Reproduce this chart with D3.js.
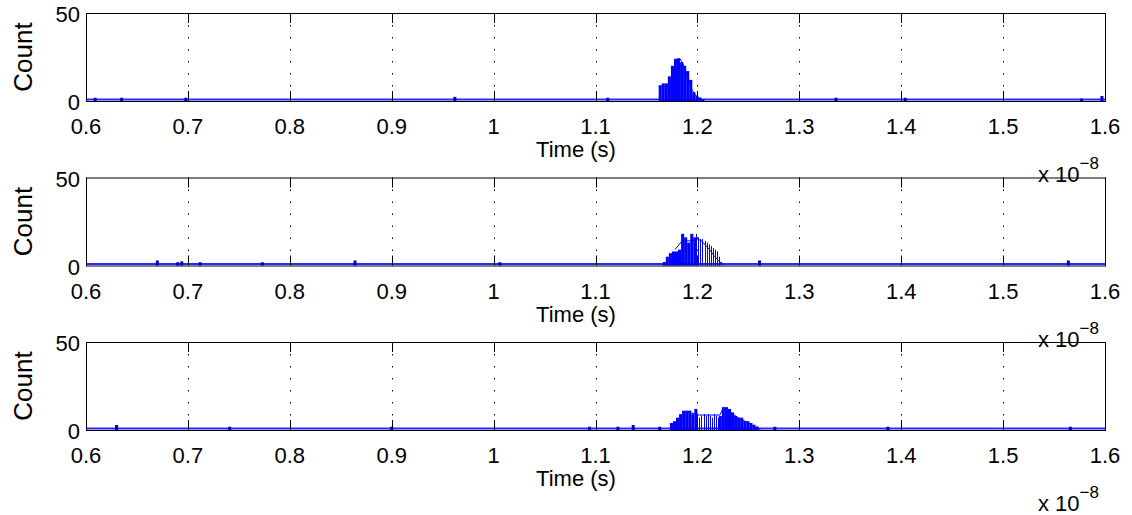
<!DOCTYPE html>
<html>
<head>
<meta charset="utf-8">
<script src="https://d3js.org/d3.v7.min.js"></script>
<style>
  body { margin: 0; background: #fff; }
  svg  { display: block; font-family: "Liberation Sans", Arial, sans-serif; }
</style>
</head>
<body>
<div id="chart"></div>
<script>
/* ---- data (times in units of 1e-8 s) ---- */
const xTicks = [0.6, 0.7, 0.8, 0.9, 1.0, 1.1, 1.2, 1.3, 1.4, 1.5, 1.6];
const xTickLabels = ['0.6', '0.7', '0.8', '0.9', '1', '1.1', '1.2', '1.3', '1.4', '1.5', '1.6'];
const yTicks = [0, 50];
const binStep = 0.003;   // wide bins
const combStep = 0.002;  // narrow, gapped bins

// panel 1
const p1BarStart = 1.162;
const p1Bars = [9, 10, 10, 14, 20, 24, 24, 22, 20, 17, 12, 5, 3, 2, 1];
const p1CombStart = 1.2;
const p1Comb = [];
const p1Line = [[1.18, 24], [1.183, 24], [1.186, 21], [1.19, 14], [1.195, 6], [1.2, 2], [1.205, 0.5]];
const p1Strays = [[0.609, 1], [0.635, 1], [0.698, 1], [0.962, 1.5], [1.112, 1], [1.336, 1], [1.404, 1], [1.577, 0.5], [1.597, 2]];

// panel 2
const p2BarStart = 1.166;
const p2Bars = [2, 5, 7, 8, 8, 9, 18, 16, 13, 18, 16];
const p2CombStart = 1.199;
const p2Comb = [18, 16, 15, 15, 14, 13, 12, 11, 10, 9, 8, 5, 2];
const p2Line = [[1.178, 9], [1.185, 14], [1.195, 14], [1.2, 15], [1.204, 14], [1.212, 9], [1.217, 5], [1.222, 2], [1.226, 0.5]];
const p2Strays = [[0.67, 2], [0.69, 1], [0.694, 1.5], [0.712, 1], [0.773, 1], [0.864, 2], [1.006, 1], [1.261, 2], [1.564, 2]];

// panel 3
const p3BarStart = 1.173;
const p3Bars = [4, 5, 7, 9, 11, 11, 11, 9, 12, 0, 0, 0, 0, 0, 0, 0, 8, 13, 13, 12, 10, 8, 7, 7, 5, 5, 4, 3, 2];
const p3CombStart = 1.2;
const p3Comb = [9, 7, 8, 9, 8, 9, 8, 7, 9, 8, 7, 7];
const p3Line = [[1.19, 10], [1.2, 9], [1.201, 8.5], [1.222, 8.5], [1.225, 12], [1.23, 11], [1.24, 7], [1.25, 4], [1.258, 1], [1.262, 0.5]];
const p3Strays = [[0.63, 2], [0.741, 1], [0.9, 1], [1.094, 1], [1.122, 1], [1.137, 2], [1.163, 1], [1.276, 1], [1.387, 1], [1.566, 1]];

/* ---- layout ---- */
const W = 1132, H = 515;
const AX_LEFT = 86, AX_RIGHT = 1105, AX_H = 88;
const AX_TOPS = [13, 177.5, 342];
const BLUE = '#0000ff';

const panels = [
  { barStart: p1BarStart, bars: p1Bars, combStart: p1CombStart, comb: p1Comb, line: p1Line, strays: p1Strays },
  { barStart: p2BarStart, bars: p2Bars, combStart: p2CombStart, comb: p2Comb, line: p2Line, strays: p2Strays },
  { barStart: p3BarStart, bars: p3Bars, combStart: p3CombStart, comb: p3Comb, line: p3Line, strays: p3Strays },
];

const svg = d3.select('#chart').append('svg')
  .attr('width', W)
  .attr('height', H);

const x = d3.scaleLinear().domain([0.6, 1.6]).range([AX_LEFT, AX_RIGHT]);

panels.forEach((p, k) => {
  const top = AX_TOPS[k];
  const y = d3.scaleLinear().domain([0, 50]).range([top + AX_H, top]);
  const g = svg.append('g');

  // dotted x grid
  g.append('g').selectAll('line')
    .data(xTicks.slice(1, -1))
    .join('line')
    .attr('x1', d => Math.round(x(d)) + 0.5)
    .attr('x2', d => Math.round(x(d)) + 0.5)
    .attr('y1', top)
    .attr('y2', top + AX_H)
    .attr('stroke', '#000')
    .attr('stroke-width', 1)
    .attr('stroke-dasharray', '1.5,10.5');

  // baseline of empty bins
  g.append('line')
    .attr('x1', x(0.6)).attr('x2', x(1.6))
    .attr('y1', y(0) - 1.5).attr('y2', y(0) - 1.5)
    .attr('stroke', '#2a2aff')
    .attr('stroke-width', 2);

  // stray counts
  g.append('g').selectAll('rect')
    .data(p.strays)
    .join('rect')
    .attr('x', d => x(d[0]) - 1.5)
    .attr('width', 3)
    .attr('y', d => y(d[1]) - 1.5)
    .attr('height', d => y(0) - y(d[1]) + 1.5)
    .attr('fill', '#0000cc');

  // wide bins
  g.append('g').selectAll('rect')
    .data(p.bars)
    .join('rect')
    .attr('x', (d, i) => x(p.barStart + i * binStep))
    .attr('width', x(binStep) - x(0))
    .attr('y', d => y(d))
    .attr('height', d => y(0) - y(d))
    .attr('fill', BLUE);

  // narrow gapped bins
  g.append('g').selectAll('rect')
    .data(p.comb)
    .join('rect')
    .attr('x', (d, i) => Math.round(x(p.combStart + i * combStep)))
    .attr('width', 1)
    .attr('y', d => y(d))
    .attr('height', d => y(0) - y(d))
    .attr('fill', BLUE);

  // overlay line
  g.append('path')
    .datum(p.line)
    .attr('fill', 'none')
    .attr('stroke', BLUE)
    .attr('stroke-width', 1)
    .attr('d', d3.line().x(d => x(d[0])).y(d => y(d[1])));

  // box + inward ticks
  g.append('rect')
    .attr('x', AX_LEFT + 0.5).attr('y', top + 0.5)
    .attr('width', AX_RIGHT - AX_LEFT).attr('height', AX_H)
    .attr('fill', 'none')
    .attr('stroke', '#000')
    .attr('stroke-width', 1);

  g.append('g').selectAll('path')
    .data(xTicks)
    .join('path')
    .attr('d', d => {
      const xx = Math.round(x(d)) + 0.5;
      return `M${xx},${top + AX_H}v-10M${xx},${top}v10`;
    })
    .attr('stroke', '#000');

  // tick labels
  g.append('g').selectAll('text')
    .data(xTicks)
    .join('text')
    .attr('x', d => x(d))
    .attr('y', top + AX_H + 33)
    .attr('text-anchor', 'middle')
    .attr('font-size', 22)
    .text((d, i) => xTickLabels[i]);

  g.append('g').selectAll('text')
    .data(yTicks)
    .join('text')
    .attr('x', AX_LEFT - 6)
    .attr('y', d => y(d) + 9)
    .attr('text-anchor', 'end')
    .attr('font-size', 22)
    .text(d => d);

  // axis labels
  g.append('text')
    .attr('transform', `translate(32,${top + AX_H / 2}) rotate(-90)`)
    .attr('text-anchor', 'middle')
    .attr('font-size', 26)
    .text('Count');

  g.append('text')
    .attr('x', 576)
    .attr('y', top + AX_H + 56)
    .attr('text-anchor', 'middle')
    .attr('font-size', 22)
    .text('Time (s)');

  // exponent
  const ex = g.append('text')
    .attr('x', 1038)
    .attr('y', top + AX_H + 81)
    .attr('font-size', 22);
  ex.append('tspan').text('x 10');
  ex.append('tspan').attr('dy', -13).attr('font-size', 17).text('\u22128');
});
</script>
</body>
</html>
